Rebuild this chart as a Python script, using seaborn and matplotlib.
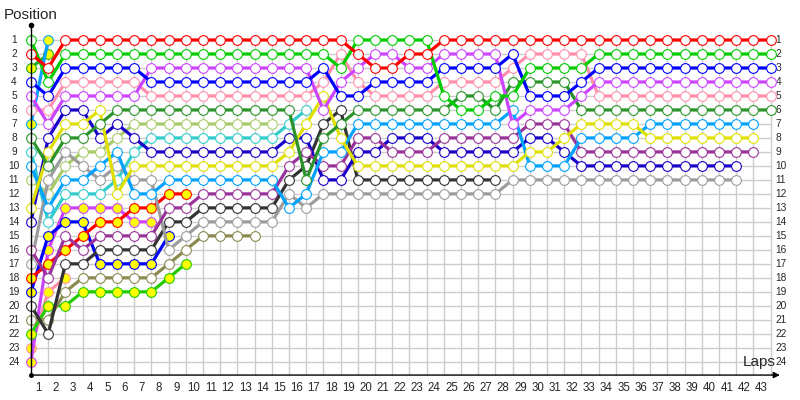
import matplotlib
matplotlib.use("Agg")
import matplotlib.pyplot as plt
import pandas as pd
import seaborn as sns

# positions per lap (index 0 = grid), one list per car
red = [2, 3, 1, 1, 1, 1, 1, 1, 1, 1, 1, 1, 1, 1, 1, 1, 1, 1, 1, 2, 3, 3, 2, 2,
       1, 1, 1, 1, 1, 1, 1, 1, 1, 1, 1, 1, 1, 1, 1, 1, 1, 1, 1, 1]
green = [1, 4, 2, 2, 2, 2, 2, 2, 2, 2, 2, 2, 2, 2, 2, 2, 2, 2, 3, 1, 1, 1, 1, 1,
         5, 6, 6, 5, 5, 3, 3, 3, 3, 2, 2, 2, 2, 2, 2, 2, 2, 2, 2, 2]
blue = [4, 5, 3, 3, 3, 3, 3, 4, 4, 4, 4, 4, 4, 4, 4, 4, 4, 3, 5, 5, 4, 4, 4, 4,
        3, 3, 3, 3, 2, 5, 5, 5, 4, 3, 3, 3, 3, 3, 3, 3, 3, 3, 3, 3]
violet = [5, 7, 5, 5, 5, 5, 5, 3, 3, 3, 3, 3, 3, 3, 3, 3, 3, 6, 4, 3, 2, 2, 3, 3,
          2, 2, 2, 2, 7, 6, 6, 6, 5, 4, 4, 4, 4, 4, 4, 4, 4, 4, 4, 4]
pink = [6, 6, 4, 4, 4, 4, 4, 5, 5, 5, 5, 5, 5, 5, 5, 5, 5, 4, 2, 4, 5, 5, 5, 5,
        4, 4, 4, 4, 3, 2, 2, 2, 2, 5, 5, 5, 5, 5, 5, 5, 5, 5, 5, 5]
dark_green = [8, 10, 8, 8, 7, 6, 6, 6, 6, 6, 6, 6, 6, 6, 6, 6, 11, 8, 7, 6, 6, 6, 6, 6,
              6, 5, 5, 6, 4, 4, 4, 4, 6, 6, 6, 6, 6, 6, 6, 6, 6, 6, 6, 6]
light_green = [11, 12, 10, 9, 9, 8, 7, 7, 7, 7, 7, 7, 7, 7, 7]
cyan = [9, 14, 12, 12, 12, 11, 9, 8, 8, 8, 8, 8, 8, 8, 8, 7, 6]
navy = [14, 8, 6, 6, 8, 7, 8, 9, 9, 9, 9, 9, 9, 9, 9, 8, 8, 11, 11, 9, 9, 8, 8, 8,
        9, 9, 9, 9, 9, 8, 8, 9, 10, 10, 10, 10, 10, 10, 10, 10, 10, 10]
yellow = [13, 9, 7, 7, 6, 12, 10, 10, 10, 10, 10, 10, 10, 10, 10, 9, 7, 5, 8, 10, 10, 10,
          10, 10, 10, 10, 10, 10, 10, 9, 9, 8, 7, 7, 7, 7, 8, 8, 8, 8, 8, 8, 8]
sky = [10, 13, 11, 11, 10, 9, 12, 12, 11, 11, 11, 11, 11, 11, 11, 13, 12, 9, 9, 7, 7, 7,
       7, 7, 7, 7, 7, 7, 6, 10, 10, 10, 8, 8, 8, 8, 7, 7, 7, 7, 7, 7, 7]
purple = [16, 18, 15, 16, 15, 15, 15, 15, 13, 13, 12, 12, 12, 12, 12, 10, 9, 10, 10, 8, 8,
          9, 9, 9, 8, 8, 8, 8, 8, 7, 7, 7, 9, 9, 9, 9, 9, 9, 9, 9, 9, 9, 9]
black = [20, 22, 17, 17, 16, 16, 16, 16, 14, 14, 13, 13, 13, 13, 13, 11, 10, 7, 6, 11, 11,
         11, 11, 11, 11, 11, 11, 11]
gray = [17, 11, 9, 10, 11, 10, 11, 11, 16, 15, 14, 14, 14, 14, 14, 12, 13, 12, 12, 12, 12,
        12, 12, 12, 12, 12, 12, 12, 11, 11, 11, 11, 11, 11, 11, 11, 11, 11, 11, 11, 11, 11]
olive = [21, 21, 19, 18, 18, 18, 18, 18, 17, 16, 15, 15, 15, 15]
lime = [22, 20, 20, 19, 19, 19, 19, 19, 18, 17]
red_b = [18, 17, 16, 15, 14, 14, 13, 13, 12, 12]
blue_b = [19, 15, 14, 14, 17, 17, 17, 17, 15]
violet_b = [24, 16, 13, 13, 13, 13, 14, 14]
pink_b = [23, 19, 18]
sky_b = [7, 1]
green_b = [3, 2]

# (positions, line colour, marker fill), first in list is drawn on top
cars = [
    (red, "#ff0000", "white"),
    (green, "#00cc00", "white"),
    (blue, "#0000ff", "white"),
    (violet, "#cc44ff", "white"),
    (pink, "#ff8fab", "white"),
    (dark_green, "#2a942a", "white"),
    (yellow, "#e0e000", "white"),
    (sky, "#00a2ff", "white"),
    (purple, "#993399", "white"),
    (navy, "#1800c8", "white"),
    (gray, "#9c9c9c", "white"),
    (black, "#333333", "white"),
    (cyan, "#33cccc", "white"),
    (light_green, "#a8cc6a", "white"),
    (olive, "#8a8a50", "white"),
    (red_b, "#ff0000", "#ffff00"),
    (lime, "#22cc00", "#ffff00"),
    (blue_b, "#0000ff", "#ffff00"),
    (violet_b, "#cc44ff", "#ffff00"),
    (pink_b, "#ff8fab", "#ffff00"),
    (sky_b, "#00a2ff", "#ffff00"),
    (green_b, "#22aa22", "#ffff00"),
]

n_laps = 43
n_pos = 24
lap_labels = [str(i) for i in range(1, n_laps + 1)]
pos_labels = [str(i) for i in range(1, n_pos + 1)]

sns.set_theme(style="white")
plt.rcParams["font.family"] = ["Liberation Sans", "DejaVu Sans"]

# pixel mapping: lap 0 at x=31 px, 17.2 px per lap; pos 1 at y=40 px, 13.99 px per pos
dx, dy = 17.2, 13.99
fig = plt.figure(figsize=(8, 4), dpi=100)
ax = fig.add_axes([0, 0, 1, 1])

grid_c = "#cccccc"
ax.vlines(range(1, n_laps + 1), 1, 24.95, color=grid_c, lw=1, zorder=1)
ax.hlines(range(1, n_pos + 1), 0, n_laps, color=grid_c, lw=1, zorder=1)

for i, (pos, col, fill) in enumerate(cars):
    df = pd.DataFrame({"lap": range(len(pos)), "pos": pos})
    sns.lineplot(data=df, x="lap", y="pos", ax=ax, color=col, lw=2.3, sort=False,
                 marker="o", markersize=7, markerfacecolor=fill,
                 markeredgecolor=col, markeredgewidth=0.8,
                 zorder=100 - i, legend=False)

# axes with arrow
ax.plot([0, 0], [24.95, -0.07], color="black", lw=1, zorder=200)
ax.plot([0], [-0.07], "o", color="black", ms=3, zorder=200)
ax.plot([0], [24.95], "o", color="black", ms=2.5, zorder=200)
ax.annotate("", xy=(43.7, 24.95), xytext=(0, 24.95),
            arrowprops=dict(arrowstyle="-|>", color="black", lw=1, mutation_scale=9),
            zorder=200)

for i, lab in enumerate(lap_labels):
    ax.text(i + 1 - 0.55, 25.9, lab, ha="center", va="center", fontsize=8.3)
for i, lab in enumerate(pos_labels):
    ax.text(-0.99, i + 1, lab, ha="center", va="center", fontsize=7.3)
    ax.text(43.3, i + 1, lab, ha="left", va="center", fontsize=7.3)

ax.text(-1.6, -0.8, "Position", ha="left", va="center", fontsize=11)
ax.text(41.4, 24.0, "Laps", ha="left", va="center", fontsize=11)

ax.set_xlim(-31 / dx, (800 - 31) / dx)
ax.set_ylim(1 + 360 / dy, 1 - 40 / dy)
ax.set_axis_off()

fig.savefig("out.png", dpi=100)
